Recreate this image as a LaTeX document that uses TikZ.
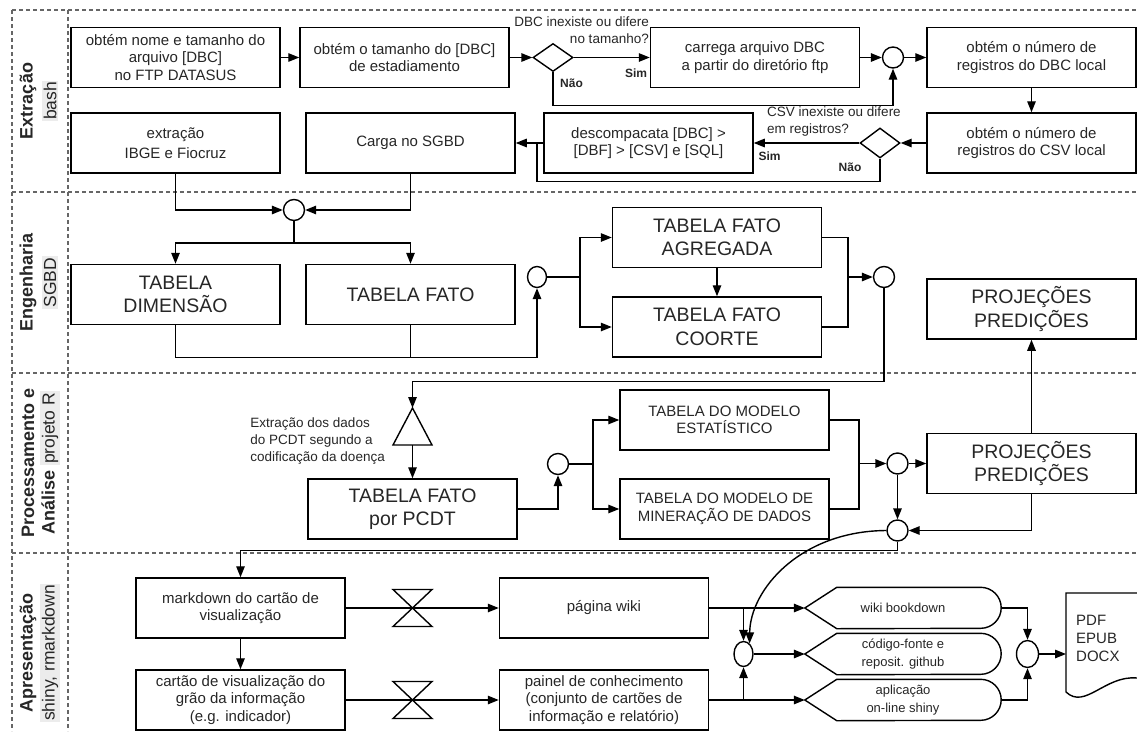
\documentclass[tikz,border=0pt]{standalone}
\usepackage{fontspec}
\setmainfont{Liberation Sans}
\usetikzlibrary{arrows.meta, shapes.geometric}
\setlength{\fboxsep}{1.5pt}

\begin{document}
\begin{tikzpicture}[
    x=1pt, y=-1pt,
    every node/.style={text=black!85},
    caixa/.style={rectangle, draw=black, line width=1.5pt, align=center, inner sep=2pt, minimum width=209pt, minimum height=60pt, font=\fontsize{15}{17.5}\selectfont},
    tabela/.style={caixa, font=\fontsize{19.5}{23.5}\selectfont},
    decisao/.style={diamond, draw=black, line width=1.4pt, minimum width=40pt, minimum height=28pt, inner sep=0pt},
    juncao/.style={ellipse, draw=black, line width=1.4pt, minimum width=21pt, minimum height=21pt, inner sep=0pt},
    saida/.style={rectangle, inner sep=0pt, minimum width=196pt, minimum height=41pt, align=center, font=\fontsize{13}{18}\selectfont},
    rotulo/.style={inner sep=0pt, font=\fontsize{13.5}{17}\selectfont},
    simnao/.style={inner sep=0pt, font=\bfseries\fontsize{12}{14}\selectfont},
    raiatit/.style={rotate=90, inner sep=0pt, font=\bfseries\fontsize{18}{20}\selectfont},
    raiasub/.style={rotate=90, inner sep=1.5pt, fill=gray!15, font=\fontsize{17.5}{20}\selectfont},
    raia/.style={dash pattern=on 4pt off 3pt, line width=1.1pt, black!60},
    linha/.style={line width=1.4pt},
    seta/.style={linha, -{Triangle[length=11pt, width=8.5pt]}}
  ]
    \useasboundingbox (0,0) rectangle (1137,731);

    % Lanes
    \draw[raia] (12,10) -- (1137,10);
    \draw[raia] (12,192) -- (1137,192);
    \draw[raia] (12,373) -- (1137,373);
    \draw[raia] (12,553) -- (1137,553);
    \draw[raia] (12,10) -- (12,731);
    \draw[raia] (68,10) -- (68,731);

    % Lane titles
    \node[raiatit] (tExtracao) at (28,101) {Extração};
    \node[raiasub] (sExtracao) at (50,101) {bash};
    \node[raiatit] (tEngenharia) at (28,282.5) {Engenharia};
    \node[raiasub] (sEngenharia) at (50,282.5) {SGBD};
    \node[raiatit] (tProcessamento) at (28,463) {Processamento e};
    \node[raiatit] (tAnalise) at (50,463) {Análise \colorbox{gray!15}{\mdseries\fontsize{17.5}{20}\selectfont projeto R}};
    \node[raiatit] (tApresentacao) at (28,653) {Apresentação};
    \node[raiasub] (sApresentacao) at (50,653) {shiny, rmarkdown};

    % Extracao - bash
    \node[caixa] (nomeFTP) at (175.5,57.5) {obtém nome e tamanho do\\arquivo [DBC]\\no FTP DATASUS};
    \node[caixa] (tamDBC) at (404.5,57.5) {obtém o tamanho do [DBC]\\de estadiamento};
    \node[decisao] (decDBC) at (553,57.5) {};
    \node[caixa] (carrega) at (755,57.5) {carrega arquivo DBC\\a partir do diretório ftp};
    \node[juncao] (jDBC) at (893,57.5) {};
    \node[caixa] (regDBC) at (1031.5,57.5) {obtém o número de\\registros do DBC local};
    \node[caixa] (regCSV) at (1031.5,143) {obtém o número de\\registros do CSV local};
    \node[decisao, minimum height=30pt] (decCSV) at (880,143) {};
    \node[caixa] (descomp) at (648.5,143) {descompacata [DBC] >\\{}[DBF] > [CSV] e [SQL]};
    \node[caixa] (carga) at (410.5,143) {Carga no SGBD};
    \node[caixa, font=\fontsize{15}{19.5}\selectfont] (ibge) at (175.5,143) {extração\\IBGE e Fiocruz};
    \coordinate (retornoCSV) at (537,143);

    % Decision labels
    \node[rotulo, align=right, anchor=north east] (pergDBC) at (649,17) {DBC inexiste ou difere\\no tamanho?};
    \node[simnao] (simDBC) at (636,73) {Sim};
    \node[simnao] (naoDBC) at (571.5,83) {Não};
    \node[rotulo, align=left, anchor=north west] (pergCSV) at (767,107) {CSV inexiste ou difere\\em registros?};
    \node[simnao] (simCSV) at (769.5,156) {Sim};
    \node[simnao] (naoCSV) at (850,167) {Não};

    % Engenharia - SGBD
    \node[juncao] (jCarga) at (294,210) {};
    \node[tabela] (dimensao) at (175.5,294.5) {TABELA\\DIMENSÃO};
    \node[tabela] (fato) at (410.5,294.5) {TABELA FATO};
    \node[juncao, minimum width=19pt] (jFato) at (537,277) {};
    \node[tabela] (agregada) at (717,237.5) {TABELA FATO\\AGREGADA};
    \node[tabela] (coorte) at (717,327) {TABELA FATO\\COORTE};
    \node[juncao] (jTabelas) at (884,277) {};
    \node[tabela] (projSGBD) at (1031.5,309) {PROJEÇÕES\\PREDIÇÕES};
    \coordinate (ramoCarga) at (294,243);
    \coordinate (ramoFato) at (580,277);
    \coordinate (juntaFato) at (848,277);

    % Processamento e Analise - projeto R
    \coordinate (topoTri) at (412.5,408);
    \coordinate (baseTri) at (412.5,445);
    \node[rotulo, align=left, anchor=east] (notaPCDT) at (385,441.5) {Extração dos dados\\do PCDT segundo a\\codificação da doença};
    \node[tabela] (fatoPCDT) at (412.5,509) {TABELA FATO\\por PCDT};
    \node[juncao] (jPCDT) at (558,464) {};
    \node[caixa] (estatistico) at (724.5,420) {TABELA DO MODELO\\ESTATÍSTICO};
    \node[caixa] (mineracao) at (724.5,509) {TABELA DO MODELO DE\\MINERAÇÃO DE DADOS};
    \node[juncao] (jModelos) at (897.5,463.5) {};
    \node[tabela] (projR) at (1031.5,463.5) {PROJEÇÕES\\PREDIÇÕES};
    \node[juncao] (jSaida) at (897.5,530.5) {};
    \coordinate (ramoPCDT) at (593,464);
    \coordinate (juntaModelos) at (859,463.5);

    % Apresentacao - shiny, rmarkdown
    \node[caixa] (markdown) at (240.5,608) {markdown do cartão de\\visualização};
    \node[caixa] (cartao) at (240.5,700) {cartão de visualização do\\grão da informação\\(e.g. indicador)};
    \coordinate (ampulheta1) at (412.5,608);
    \coordinate (ampulheta2) at (412.5,700);
    \node[caixa] (wiki) at (604,608) {página wiki};
    \node[caixa] (painel) at (604,700) {painel de conhecimento\\(conjunto de cartões de\\informação e relatório)};
    \node[juncao, minimum width=19pt, minimum height=25pt] (jPublica) at (743.5,654) {};
    \node[saida] (bookdown) at (903,608) {wiki bookdown};
    \node[saida] (github) at (903,654) {código-fonte e\\reposit. github};
    \node[saida] (shiny) at (903,700) {aplicação\\on-line shiny};
    \node[juncao, minimum width=22pt, minimum height=27pt] (jFormato) at (1027.5,654) {};
    \coordinate (documento) at (1066,654);
    \node[rotulo, align=left, anchor=west, font=\fontsize{15}{18}\selectfont] (formatos) at (1076,638) {PDF\\EPUB\\DOCX};

    % Shapes drawn directly
    \draw[linha] (topoTri) -- ++(19.5,37) -- ++(-39,0) -- cycle;
    \draw[linha] (bookdown.west) -- ([xshift=32pt]bookdown.north west) -- ([xshift=-20.5pt]bookdown.north east) arc[start angle=90, end angle=-90, radius=20.5pt] -- ([xshift=32pt]bookdown.south west) -- cycle;
    \draw[linha] (github.west) -- ([xshift=32pt]github.north west) -- ([xshift=-20.5pt]github.north east) arc[start angle=90, end angle=-90, radius=20.5pt] -- ([xshift=32pt]github.south west) -- cycle;
    \draw[linha] (shiny.west) -- ([xshift=32pt]shiny.north west) -- ([xshift=-20.5pt]shiny.north east) arc[start angle=90, end angle=-90, radius=20.5pt] -- ([xshift=32pt]shiny.south west) -- cycle;
    \draw[linha] (1137,593) -- (1066,593) -- (documento) -- (1066,692) .. controls (1085,710) and (1105,675) .. (1137,678);

    % Connectors - extracao
    \draw[seta] (nomeFTP) -- (tamDBC);
    \draw[seta] (tamDBC) -- (decDBC);
    \draw[seta] (decDBC) -- (carrega);
    \draw[seta] (decDBC.south) -- ++(0,33) -| (jDBC.south);
    \draw[seta] (carrega) -- (jDBC);
    \draw[seta] (jDBC) -- (regDBC);
    \draw[seta] (regDBC) -- (regCSV);
    \draw[seta] (regCSV) -- (decCSV);
    \draw[seta] (decCSV) -- (descomp);
    \draw[linha] (decCSV.south) -- ++(0,22.5) -| (retornoCSV);
    \draw[seta] (descomp) -- (carga);
    \draw[seta] (ibge.south) |- (jCarga.west);
    \draw[seta] (carga.south) |- (jCarga.east);

    % Connectors - engenharia
    \draw[linha] (jCarga.south) -- (ramoCarga);
    \draw[seta] (ramoCarga) -| (dimensao.north);
    \draw[seta] (ramoCarga) -| (fato.north);
    \draw[seta] (dimensao.south) -- ++(0,32.5) -| (jFato.south);
    \draw[linha] (fato.south) -- ++(0,32.5);
    \draw[linha] (jFato) -- (ramoFato);
    \draw[seta] (ramoFato) |- (agregada.west);
    \draw[seta] (ramoFato) |- (coorte.west);
    \draw[seta] (agregada) -- (coorte);
    \draw[linha] (agregada.east) -| (juntaFato) |- (coorte.east);
    \draw[seta] (juntaFato) -- (jTabelas);

    % Connectors - processamento
    \draw[seta] (jTabelas.south) -- ++(0,93.5) -| (topoTri);
    \draw[seta] (baseTri) -- (fatoPCDT.north);
    \draw[seta] (fatoPCDT.east) -| (jPCDT.south);
    \draw[linha] (jPCDT) -- (ramoPCDT);
    \draw[seta] (ramoPCDT) |- (estatistico.west);
    \draw[seta] (ramoPCDT) |- (mineracao.west);
    \draw[linha] (estatistico.east) -| (juntaModelos) |- (mineracao.east);
    \draw[seta] (juntaModelos) -- (jModelos);
    \draw[seta] (jModelos) -- (projR);
    \draw[seta] (projR) -- (projSGBD);
    \draw[seta] (jModelos) -- (jSaida);
    \draw[seta] (projR.south) |- (jSaida.east);

    % Connectors - apresentacao
    \draw[seta] (jSaida.south) -- ++(0,8.5) -| (markdown.north);
    \draw[seta] (jSaida.west) .. controls (800,531) and (750,590) .. (jPublica.60);
    \draw[seta] (markdown) -- (cartao);
    \draw[seta] (markdown) -- (wiki);
    \draw[seta] (cartao) -- (painel);
    \draw[linha] ([shift={(-19.5,-18.5)}]ampulheta1) -- ++(39,0) -- ++(-39,37) -- ++(39,0) -- cycle;
    \draw[linha] ([shift={(-19.5,-18.5)}]ampulheta2) -- ++(39,0) -- ++(-39,37) -- ++(39,0) -- cycle;
    \draw[seta] (wiki) -- (bookdown);
    \draw[seta] (painel) -- (shiny);
    \draw[seta] (jPublica) -- (github);
    \draw[seta] (wiki.east -| jPublica.north) -- (jPublica.north);
    \draw[seta] (painel.east -| jPublica.south) -- (jPublica.south);
    \draw[seta] (bookdown.east) -| (jFormato.north);
    \draw[seta] (shiny.east) -| (jFormato.south);
    \draw[seta] (jFormato) -- (documento);

  \end{tikzpicture}
\end{document}
